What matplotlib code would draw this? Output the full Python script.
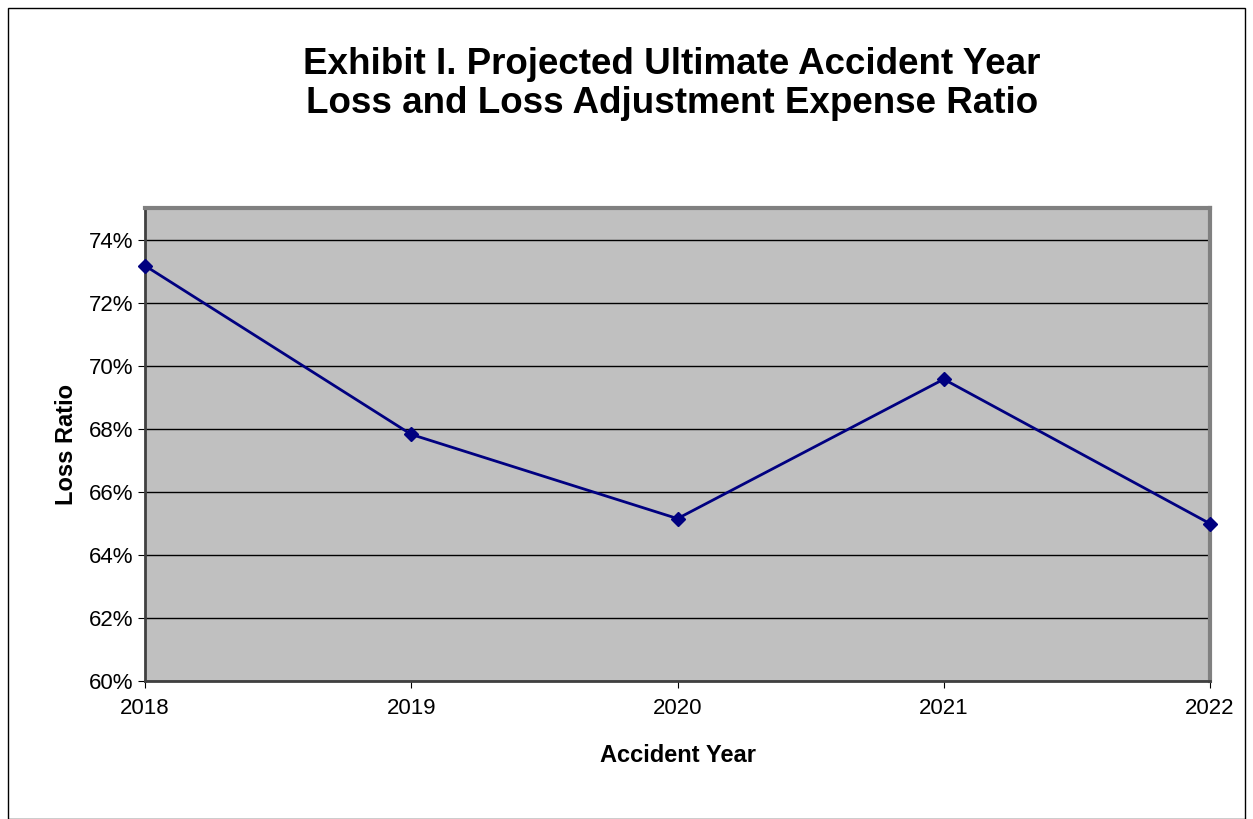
import matplotlib.pyplot as plt
from matplotlib.ticker import FuncFormatter
from matplotlib.patches import Rectangle

years = [2018, 2019, 2020, 2021, 2022]
loss_ratio = [73.17, 67.82, 65.15, 69.57, 64.99]
yticks = [60, 62, 64, 66, 68, 70, 72, 74]

W, H = 1253, 819
fig = plt.figure(figsize=(W / 100, H / 100), dpi=100)
plt.rcParams['font.family'] = ['Liberation Sans', 'DejaVu Sans']

# figure border
fig.patches.append(Rectangle((8 / W, 0), (W - 16) / W, (H - 8) / H, transform=fig.transFigure,
                             fill=False, edgecolor='black', linewidth=1))

ax = fig.add_axes([145 / W, 1 - 681 / H, (1210 - 145) / W, (681 - 208) / H])
ax.set_facecolor('#c0c0c0')
ax.plot(years, loss_ratio, color='#000080', linewidth=2, marker='D', markersize=7,
        zorder=3, clip_on=False)

ax.set_xlim(2018, 2022)
ax.set_ylim(60, 75)
ax.set_xticks(years)
ax.set_yticks(yticks)
ax.yaxis.set_major_formatter(FuncFormatter(lambda v, p: f'{v:.0f}%'))
ax.grid(axis='y', color='black', linewidth=1)
ax.tick_params(labelsize=16, length=5, direction='out')
ax.tick_params(axis='x', pad=7)

for s in ['top', 'right']:
    ax.spines[s].set_color('#808080')
    ax.spines[s].set_linewidth(3)
for s in ['left', 'bottom']:
    ax.spines[s].set_color('#404040')
    ax.spines[s].set_linewidth(2)

ax.set_xlabel('Accident Year', fontsize=17, fontweight='bold', labelpad=18)
ax.set_ylabel('Loss Ratio', fontsize=17, fontweight='bold', labelpad=8)

fig.text(672 / W, 1 - 84 / H, 'Exhibit I. Projected Ultimate Accident Year\nLoss and Loss Adjustment Expense Ratio',
         ha='center', va='center', fontsize=26.5, fontweight='bold', linespacing=1.15)

fig.savefig('out.png', dpi=100)
